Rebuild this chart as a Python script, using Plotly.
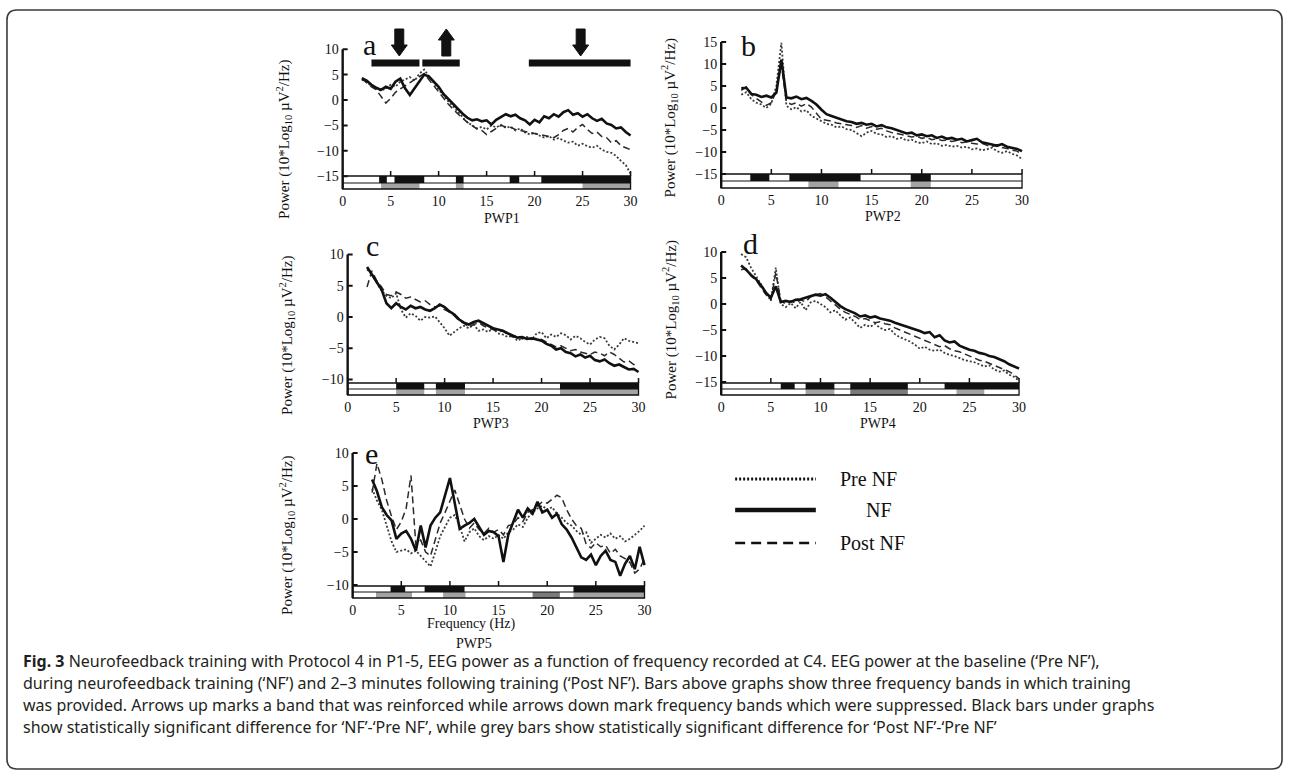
import plotly.graph_objects as go

W, H = 1292, 776

# ---------------- data ----------------
freq = [2.0, 2.5, 3.0, 3.5, 4.0, 4.5, 5.0, 5.5, 6.0, 6.5,
        7.0, 7.5, 8.0, 8.5, 9.0, 9.5, 10.0, 10.5, 11.0, 11.5,
        12.0, 12.5, 13.0, 13.5, 14.0, 14.5, 15.0, 15.5, 16.0, 16.5,
        17.0, 17.5, 18.0, 18.5, 19.0, 19.5, 20.0, 20.5, 21.0, 21.5,
        22.0, 22.5, 23.0, 23.5, 24.0, 24.5, 25.0, 25.5, 26.0, 26.5,
        27.0, 27.5, 28.0, 28.5, 29.0, 29.5, 30.0]

xtick_vals = [0, 5, 10, 15, 20, 25, 30]

# PWP1
a_nf = [4.3, 3.8, 3.0, 2.4, 2.0, 2.6, 2.2, 3.6, 4.2, 2.3,
        1.0, 2.4, 3.6, 5.0, 4.6, 3.6, 2.6, 1.2, 0.2, -0.9,
        -1.9, -2.7, -3.5, -4.0, -3.8, -4.2, -4.0, -4.8, -3.9, -3.4,
        -2.8, -3.2, -2.9, -3.6, -4.0, -4.8, -3.9, -4.4, -3.2, -3.6,
        -2.8, -3.3, -2.4, -2.0, -2.9, -2.6, -3.3, -2.8, -3.6, -4.1,
        -3.7, -4.6, -4.9, -5.6, -5.4, -6.3, -7.0]
a_pre = [4.0, 3.5, 2.8, 2.2, 1.8, 2.3, 3.0, 2.6, 3.6, 4.0,
         4.5, 3.8, 5.2, 6.0, 4.6, 3.2, 2.0, 1.0, -0.3, -1.2,
         -2.4, -3.4, -4.4, -5.0, -5.6, -5.3, -5.8, -5.0, -5.4, -4.9,
         -5.5, -5.2, -6.0, -5.6, -6.4, -6.8, -6.5, -7.0, -7.4, -7.1,
         -7.8, -7.5, -8.0, -8.4, -8.2, -9.0, -8.6, -9.1, -9.4, -9.0,
         -9.8, -10.2, -10.4, -11.0, -12.0, -12.8, -14.5]
a_post = [4.2, 3.4, 2.6, 2.0, 0.8, -0.6, 0.3, 1.5, 2.2, 2.8,
          3.3, 4.0, 4.6, 5.2, 4.0, 2.8, 1.6, 0.2, -0.8, -1.8,
          -2.8, -3.6, -4.4, -5.0, -5.7, -6.0, -6.8, -6.2, -5.6, -5.0,
          -5.3, -5.4, -5.8, -6.0, -6.3, -6.5, -6.6, -6.8, -7.0, -7.2,
          -7.4, -6.8, -6.0, -5.6, -6.3, -5.4, -4.8, -5.8, -6.6, -6.3,
          -7.2, -7.4, -8.4, -8.0, -9.0, -9.4, -9.8]
a_yticks = [10, 5, 0, -5, -10, -15]
a_sig_nf = [(3.8, 4.6), (5.4, 8.5), (11.8, 12.6), (17.4, 18.4), (20.7, 30.0)]
a_sig_post = [(4.0, 8.0), (11.8, 12.6), (25.0, 30.0)]
a_sig_post_dark = []
a_train_bands = [(3.0, 8.0), (8.3, 12.2), (19.4, 30.0)]
a_train_freq = [5.9, 10.8, 24.8]
a_train_dir = ["down", "up", "down"]

# PWP2
b_nf = [4.5, 4.6, 3.2, 3.0, 2.5, 2.8, 2.4, 3.5, 11.0, 2.4,
        2.2, 2.6, 2.0, 2.3, 1.6, 0.8, -0.4, -1.4, -1.8, -2.2,
        -2.6, -3.0, -3.2, -3.6, -3.4, -3.8, -3.6, -4.2, -3.9, -4.4,
        -4.6, -5.0, -5.4, -5.8, -5.6, -6.2, -6.0, -6.4, -6.2, -6.8,
        -6.5, -7.0, -6.8, -7.2, -7.0, -7.6, -7.3, -7.0, -7.8, -8.0,
        -8.3, -8.6, -8.2, -8.8, -9.0, -9.3, -9.8]
b_pre = [3.0, 3.6, 2.0, 1.2, 0.8, 0.0, 1.0, 5.0, 14.8, 0.5,
         -0.3, 0.2, -0.8, -0.5, -1.8, -2.4, -3.0, -3.6, -3.8, -4.4,
         -4.2, -4.8, -5.0, -5.8, -6.4, -5.6, -5.2, -5.9, -6.0, -6.6,
         -6.4, -7.0, -6.8, -7.4, -7.2, -7.8, -8.0, -7.6, -8.2, -8.0,
         -8.6, -8.4, -8.8, -8.6, -9.0, -8.8, -9.4, -9.2, -9.6, -9.4,
         -9.0, -9.8, -10.2, -9.8, -10.4, -10.8, -11.6]
b_post = [4.0, 4.8, 3.0, 2.2, 1.6, 0.6, 1.2, 4.0, 10.0, 1.4,
          0.8, 1.2, 0.4, 1.0, 0.2, -1.2, -2.6, -2.8, -3.0, -3.4,
          -3.6, -3.8, -4.0, -4.4, -4.0, -4.6, -4.2, -4.8, -4.6, -5.2,
          -5.6, -5.8, -6.0, -6.3, -6.6, -6.4, -6.9, -6.7, -7.2, -7.0,
          -7.4, -7.3, -7.6, -7.4, -7.9, -7.7, -8.0, -8.2, -8.0, -8.5,
          -8.8, -8.3, -9.0, -9.2, -9.6, -9.8, -10.6]
b_yticks = [15, 10, 5, 0, -5, -10, -15]
b_sig_nf = [(2.9, 4.8), (6.8, 13.9), (18.9, 20.9)]
b_sig_post = [(8.7, 11.7), (18.9, 20.9)]
b_sig_post_dark = []

# PWP3
c_nf = [8.0, 6.8, 5.6, 4.4, 2.2, 1.4, 2.2, 1.6, 1.2, 1.8,
        1.4, 1.6, 1.2, 1.0, 1.4, 2.0, 1.6, 0.9, 0.4, -0.4,
        -0.9, -1.2, -0.8, -0.6, -1.0, -1.4, -1.8, -2.0, -2.2, -2.6,
        -2.9, -3.3, -3.2, -3.5, -3.4, -3.6, -3.8, -4.3, -4.6, -5.2,
        -5.0, -5.6, -5.8, -6.3, -6.0, -6.5, -6.2, -6.9, -7.1, -6.8,
        -7.4, -7.8, -7.6, -8.0, -8.4, -8.3, -8.8]
c_pre = [7.6, 7.0, 5.4, 4.2, 3.4, 3.0, 3.8, 1.2, -0.1, 0.6,
         0.2, -0.6, 0.0, -0.1, 0.1, -0.8, -1.8, -3.0, -2.4, -1.8,
         -1.4, -1.8, -1.2, -2.2, -2.0, -2.4, -1.8, -2.6, -2.8, -3.2,
         -3.0, -3.8, -3.4, -3.2, -3.6, -2.6, -2.4, -3.4, -2.8, -3.2,
         -2.6, -2.9, -3.6, -3.0, -3.4, -4.0, -4.4, -3.6, -3.2, -3.4,
         -4.6, -5.2, -4.4, -3.4, -3.8, -4.0, -4.2]
c_post = [4.8, 7.4, 5.8, 4.8, 3.6, 3.4, 4.0, 3.6, 3.0, 3.2,
          2.8, 2.4, 2.6, 2.0, 1.6, 1.8, 1.2, 0.8, 0.2, -0.6,
          -1.0, -1.6, -1.2, -0.9, -1.4, -1.8, -2.0, -2.4, -2.2, -2.8,
          -3.2, -3.0, -3.5, -3.3, -3.6, -3.4, -3.6, -4.0, -4.4, -4.8,
          -4.6, -5.0, -5.4, -5.2, -5.6, -5.8, -6.0, -5.6, -5.8, -6.2,
          -5.6, -6.0, -6.6, -7.2, -7.0, -7.6, -7.8]
c_yticks = [10, 5, 0, -5, -10]
c_sig_nf = [(5.0, 7.9), (9.1, 12.1), (21.9, 30.0)]
c_sig_post = [(5.0, 7.9), (9.1, 12.1), (21.9, 30.0)]
c_sig_post_dark = []

# PWP4
d_nf = [7.4, 6.6, 5.6, 4.8, 3.6, 2.2, 1.2, 3.4, 0.4, 0.6,
        0.4, 0.8, 0.9, 1.2, 1.6, 1.8, 1.6, 1.9, 1.2, 0.4,
        -0.4, -1.0, -1.4, -1.8, -2.4, -2.2, -2.6, -2.4, -2.8, -3.0,
        -3.2, -3.6, -3.9, -4.2, -4.5, -4.8, -5.2, -5.6, -5.4, -6.4,
        -6.0, -7.0, -7.4, -7.2, -8.0, -8.4, -8.8, -9.0, -9.4, -9.6,
        -10.0, -10.2, -10.6, -11.0, -11.6, -12.0, -12.4]
d_pre = [9.6, 9.0, 7.0, 5.4, 3.6, 2.0, 0.6, 7.0, 0.0, -0.6,
         0.2, -0.8, 0.4, -1.2, 0.3, 0.6, 0.0, -0.6, -1.6, -1.2,
         -2.2, -3.0, -2.6, -3.6, -4.6, -4.0, -4.4, -3.8, -4.6, -5.0,
         -4.8, -5.8, -6.4, -6.8, -7.2, -7.8, -8.6, -8.2, -8.8, -9.0,
         -8.8, -9.4, -9.8, -10.0, -10.4, -10.8, -11.0, -11.2, -11.6, -12.0,
         -11.8, -12.6, -13.0, -12.8, -13.6, -14.0, -14.8]
d_post = [6.6, 6.8, 5.4, 4.6, 3.2, 1.8, 0.8, 6.0, 0.6, 0.0,
          0.6, 0.2, 0.8, 0.4, 1.4, 1.8, 2.0, 1.4, 0.6, -0.2,
          -1.0, -1.6, -2.0, -2.4, -3.0, -2.8, -3.2, -3.6, -3.4, -3.8,
          -4.0, -4.6, -5.0, -5.4, -5.8, -6.2, -6.6, -7.0, -7.4, -7.8,
          -8.2, -8.0, -8.6, -9.0, -9.2, -9.6, -10.0, -10.4, -10.8, -11.0,
          -11.4, -11.8, -12.2, -12.6, -13.0, -13.6, -14.4]
d_yticks = [10, 5, 0, -5, -10, -15]
d_sig_nf = [(6.0, 7.4), (8.5, 11.4), (13.0, 18.8), (22.5, 30.0)]
d_sig_post = [(8.5, 11.4), (23.7, 26.5)]
d_sig_post_dark = [(13.0, 18.8)]

# PWP5
e_nf = [6.0, 4.2, 1.8, 0.6, -0.2, -3.0, -2.2, -1.8, -3.0, -4.8,
        -1.0, -4.3, -1.0, 0.2, 1.0, 3.6, 6.2, 2.4, -1.5, -1.0,
        -0.6, 0.0, -1.2, -2.4, -1.8, -2.0, -2.6, -6.5, -2.4, -0.6,
        1.4, 0.2, 1.6, 0.8, 2.6, 1.0, 1.4, 0.2, 0.8, -0.8,
        -1.6, -2.8, -4.4, -5.8, -6.2, -5.4, -7.0, -5.6, -4.8, -6.2,
        -6.5, -8.6, -6.8, -5.6, -7.6, -4.2, -7.0]
e_pre = [4.6, 2.8, 1.4, -1.0, -3.4, -5.0, -4.8, -4.6, -5.2, -4.8,
         -5.6, -6.4, -7.2, -5.0, -2.6, -1.2, 0.2, 0.6, -1.0, -3.4,
         -2.0, -1.4, -2.6, -3.2, -2.6, -3.0, -2.4, -3.0, -2.0, -1.6,
         -0.8, -1.2, 0.2, 1.0, 1.6, 2.0, 1.4, 1.8, 0.8, 0.2,
         -0.6, -1.0, -1.8, -2.4, -2.0, -3.6, -3.0, -2.4, -2.8, -2.2,
         -3.0, -2.6, -3.4, -3.0, -2.4, -1.8, -1.0]
e_post = [4.0, 8.4, 6.0, 2.8, 0.4, -1.6, -0.4, 1.6, 6.6, -4.0,
          -3.2, -5.0, -5.6, -3.0, -0.6, 1.0, 2.6, 4.4, 2.2, 0.0,
          -1.4, -0.6, -1.6, -2.2, -1.4, -2.0, -1.6, -2.4, -1.0, -0.8,
          0.2, -0.4, 1.0, 1.4, 2.0, 2.6, 2.4, 3.0, 3.6, 3.2,
          1.4, 0.0, -1.0, -1.4, -3.8, -4.4, -3.6, -4.2, -4.0, -5.2,
          -4.6, -5.6, -6.0, -6.6, -8.2, -7.6, -6.0]
e_yticks = [10, 5, 0, -5, -10]
e_sig_nf = [(3.9, 5.4), (7.4, 11.5), (22.7, 30.0)]
e_sig_post = [(2.4, 6.1), (9.3, 11.6), (22.7, 30.0)]
e_sig_post_dark = [(18.5, 21.3)]

series_names = ["Pre NF", "NF", "Post NF"]
caption_lines = [
    "<b>Fig. 3</b> Neurofeedback training with Protocol 4 in P1-5, EEG power as a function of frequency recorded at C4. EEG power at the baseline (\u2018Pre NF\u2019),",
    "during neurofeedback training (\u2018NF\u2019) and 2\u20133 minutes following training (\u2018Post NF\u2019). Bars above graphs show three frequency bands in which training",
    "was provided. Arrows up marks a band that was reinforced while arrows down mark frequency bands which were suppressed. Black bars under graphs",
    "show statistically significant difference for \u2018NF\u2019-\u2018Pre NF\u2019, while grey bars show statistically significant difference for \u2018Post NF\u2019-\u2018Pre NF\u2019",
]

panels = [
    dict(letter="a", pre=a_pre, nf=a_nf, post=a_post, yticks=a_yticks, sig_nf=a_sig_nf,
         sig_post=a_sig_post, sig_dark=a_sig_post_dark, xlabel="PWP1"),
    dict(letter="b", pre=b_pre, nf=b_nf, post=b_post, yticks=b_yticks, sig_nf=b_sig_nf,
         sig_post=b_sig_post, sig_dark=b_sig_post_dark, xlabel="PWP2"),
    dict(letter="c", pre=c_pre, nf=c_nf, post=c_post, yticks=c_yticks, sig_nf=c_sig_nf,
         sig_post=c_sig_post, sig_dark=c_sig_post_dark, xlabel="PWP3"),
    dict(letter="d", pre=d_pre, nf=d_nf, post=d_post, yticks=d_yticks, sig_nf=d_sig_nf,
         sig_post=d_sig_post, sig_dark=d_sig_post_dark, xlabel="PWP4"),
    dict(letter="e", pre=e_pre, nf=e_nf, post=e_post, yticks=e_yticks, sig_nf=e_sig_nf,
         sig_post=e_sig_post, sig_dark=e_sig_post_dark, xlabel="PWP5"),
]

# ---------------- geometry (pixels) ----------------
GEOM = {
    "a": dict(x0=343, x30=632, py0=100.0, ppu=5.08, top=22, strip=(176, 183, 189),
              ytitle=(284, 139), letter=(370, 44), xlab=(503, 218)),
    "b": dict(x0=723, x30=1025, py0=108.0, ppu=4.4, top=28, strip=(174, 181, 188),
              ytitle=(671, 118), letter=(750, 45), xlab=(885, 216)),
    "c": dict(x0=348, x30=640, py0=317.0, ppu=6.25, top=238, strip=(383, 389, 395),
              ytitle=(287, 335), letter=(373, 245), xlab=(492, 424)),
    "d": dict(x0=723, x30=1022, py0=304.0, ppu=5.2, top=235, strip=(383, 389, 395),
              ytitle=(672, 320), letter=(752, 243), xlab=(880, 424)),
    "e": dict(x0=353, x30=646, py0=519.0, ppu=6.6, top=440, strip=(586, 592, 598),
              ytitle=(287, 535), letter=(372, 453), xlab=(475, 643)),
}

SERIF = "Liberation Serif, Times New Roman, serif"
BLACK = "#111111"
GREY = "#a3a3a3"
DARKGREY = "#7a7a7a"

fig = go.Figure()
shapes = []
annotations = []
layout_axes = {}


def pxx(px):
    return px / W


def pxy(py):
    return 1 - py / H


for i, p in enumerate(panels):
    g = GEOM[p["letter"]]
    n = "" if i == 0 else str(i + 1)
    xr, yr = "x" + n, "y" + n
    pxhz = (g["x30"] - g["x0"]) / 30.0

    def v(py, g=g):
        return (g["py0"] - py) / g["ppu"]

    xpad = 0.3
    sb = g["strip"][2]
    layout_axes["xaxis" + n] = dict(
        domain=[pxx(g["x0"] - xpad * pxhz), pxx(g["x30"] + xpad * pxhz)],
        range=[-xpad, 30 + xpad], anchor=yr, tickvals=xtick_vals, ticks="",
        showgrid=False, zeroline=False, showline=False,
        tickfont=dict(family=SERIF, size=14, color=BLACK))
    layout_axes["yaxis" + n] = dict(
        domain=[pxy(sb + 1.5), pxy(g["top"])],
        range=[v(sb + 1.5), v(g["top"])], anchor=xr, tickvals=p["yticks"], ticks="",
        showgrid=False, zeroline=False, showline=False,
        tickfont=dict(family=SERIF, size=14, color=BLACK))

    fig.add_trace(go.Scatter(x=freq, y=p["pre"], mode="lines", xaxis=xr, yaxis=yr,
                             name=series_names[0], showlegend=False,
                             line=dict(color="#3c3c3c", width=1.8, dash="2px,2px")))
    fig.add_trace(go.Scatter(x=freq, y=p["post"], mode="lines", xaxis=xr, yaxis=yr,
                             name=series_names[2], showlegend=False,
                             line=dict(color="#2a2a2a", width=1.5, dash="7px,4px")))
    fig.add_trace(go.Scatter(x=freq, y=p["nf"], mode="lines", xaxis=xr, yaxis=yr,
                             name=series_names[1], showlegend=False,
                             line=dict(color=BLACK, width=2.6)))

    s_top, s_mid, s_bot = (v(s) for s in g["strip"])
    shapes.append(dict(type="rect", xref=xr, yref=yr, x0=0, x1=30, y0=s_bot, y1=s_top,
                       fillcolor="white", line=dict(width=0), layer="above"))
    for a0, a1 in p["sig_nf"]:
        shapes.append(dict(type="rect", xref=xr, yref=yr, x0=a0, x1=a1, y0=s_mid, y1=s_top,
                           fillcolor=BLACK, line=dict(width=0)))
    for a0, a1 in p["sig_post"]:
        shapes.append(dict(type="rect", xref=xr, yref=yr, x0=a0, x1=a1, y0=s_bot, y1=s_mid,
                           fillcolor=GREY, line=dict(width=0)))
    for a0, a1 in p["sig_dark"]:
        shapes.append(dict(type="rect", xref=xr, yref=yr, x0=a0, x1=a1, y0=s_bot, y1=s_mid,
                           fillcolor=DARKGREY, line=dict(width=0)))
    shapes.append(dict(type="rect", xref=xr, yref=yr, x0=0, x1=30, y0=s_bot, y1=s_top,
                       line=dict(color=BLACK, width=1.3)))
    shapes.append(dict(type="line", xref=xr, yref=yr, x0=0, x1=30, y0=s_mid, y1=s_mid,
                       line=dict(color=BLACK, width=1.2)))
    for t in xtick_vals[1:]:
        shapes.append(dict(type="line", xref=xr, yref=yr, x0=t, x1=t, y0=s_top,
                           y1=s_top + 5.0 / g["ppu"], line=dict(color=BLACK, width=1.5)))
    shapes.append(dict(type="line", xref=xr, yref=yr, x0=0, x1=0, y0=s_bot,
                       y1=max(p["yticks"]), line=dict(color=BLACK, width=2.4)))
    for t in p["yticks"]:
        shapes.append(dict(type="line", xref=xr, yref=yr, x0=0, x1=5.0 / pxhz, y0=t, y1=t,
                           line=dict(color=BLACK, width=2)))

    annotations.append(dict(text=p["letter"], xref="paper", yref="paper",
                            x=pxx(g["letter"][0]), y=pxy(g["letter"][1]), showarrow=False,
                            xanchor="center", yanchor="middle",
                            font=dict(family=SERIF, size=30, color=BLACK)))
    annotations.append(dict(text="Power (10*Log<sub>10</sub> \u00b5V<sup>2</sup>/Hz)",
                            xref="paper", yref="paper", textangle=-90,
                            x=pxx(g["ytitle"][0]), y=pxy(g["ytitle"][1]), showarrow=False,
                            xanchor="center", yanchor="middle",
                            font=dict(family=SERIF, size=15, color=BLACK)))
    annotations.append(dict(text=p["xlabel"], xref="paper", yref="paper",
                            x=pxx(g["xlab"][0]), y=pxy(g["xlab"][1]), showarrow=False,
                            xanchor="center", yanchor="middle",
                            font=dict(family=SERIF, size=14, color=BLACK)))
    if p["letter"] == "e":
        annotations.append(dict(text="Frequency (Hz)", xref="paper", yref="paper",
                                x=pxx(472), y=pxy(624), showarrow=False,
                                xanchor="center", yanchor="middle",
                                font=dict(family=SERIF, size=14, color=BLACK)))

    if p["letter"] == "a":
        y_bar = v(63)
        for b0, b1 in a_train_bands:
            fig.add_trace(go.Scatter(x=[b0, b1], y=[y_bar, y_bar], mode="lines",
                                     xaxis=xr, yaxis=yr, showlegend=False,
                                     line=dict(color=BLACK, width=7)))
        hs, hh = 4.5 / pxhz, 8.0 / pxhz
        for f, d in zip(a_train_freq, a_train_dir):
            if d == "down":
                yt, yn, yp = v(29), v(45), v(56)
            else:
                yt, yn, yp = v(56), v(40), v(29)
            path = (f"M {f-hs},{yt} L {f+hs},{yt} L {f+hs},{yn} L {f+hh},{yn} "
                    f"L {f},{yp} L {f-hh},{yn} L {f-hs},{yn} Z")
            shapes.append(dict(type="path", xref=xr, yref=yr, path=path,
                               fillcolor=BLACK, line=dict(color=BLACK, width=1)))

# ---------------- legend (drawn) ----------------
leg_rows = [(479, "2px,2px", 3.2, series_names[0], 840),
            (510, "solid", 4.5, series_names[1], 866),
            (543, "10px,6px", 2.4, series_names[2], 840)]
for yy, dash, wd, name, tx in leg_rows:
    shapes.append(dict(type="line", xref="paper", yref="paper", x0=pxx(737), x1=pxx(818),
                       y0=pxy(yy), y1=pxy(yy), line=dict(color=BLACK, width=wd, dash=dash)))
    annotations.append(dict(text=name, xref="paper", yref="paper", x=pxx(tx), y=pxy(yy),
                            showarrow=False, xanchor="left", yanchor="middle",
                            font=dict(family=SERIF, size=20, color=BLACK)))

# ---------------- caption ----------------
for k, line in enumerate(caption_lines):
    annotations.append(dict(text=line, xref="paper", yref="paper", x=pxx(20),
                            y=pxy(661 + 22 * k), showarrow=False, xanchor="left",
                            yanchor="middle", align="left",
                            font=dict(family="Noto Sans, Open Sans, sans-serif", size=16,
                                      color="#231f20")))

# ---------------- border ----------------
bx0, bx1, by0, by1, r = 6, 1286, 10, 769, 10
rx, ry = r / W, r / H
X0, X1, Y0, Y1 = pxx(bx0), pxx(bx1), pxy(by0), pxy(by1)
border = (f"M {X0+rx},{Y0} L {X1-rx},{Y0} Q {X1},{Y0} {X1},{Y0-ry} L {X1},{Y1+ry} "
          f"Q {X1},{Y1} {X1-rx},{Y1} L {X0+rx},{Y1} Q {X0},{Y1} {X0},{Y1+ry} "
          f"L {X0},{Y0-ry} Q {X0},{Y0} {X0+rx},{Y0} Z")
shapes.append(dict(type="path", xref="paper", yref="paper", path=border,
                   line=dict(color="#3a3a3a", width=1.6)))

fig.update_layout(width=W, height=H, margin=dict(l=0, r=0, t=0, b=0),
                  paper_bgcolor="white", plot_bgcolor="rgba(0,0,0,0)",
                  showlegend=False, shapes=shapes, annotations=annotations,
                  **layout_axes)

fig.write_html("out.html", config={"displayModeBar": False},
               post_script="document.body.style.margin='0px';")
